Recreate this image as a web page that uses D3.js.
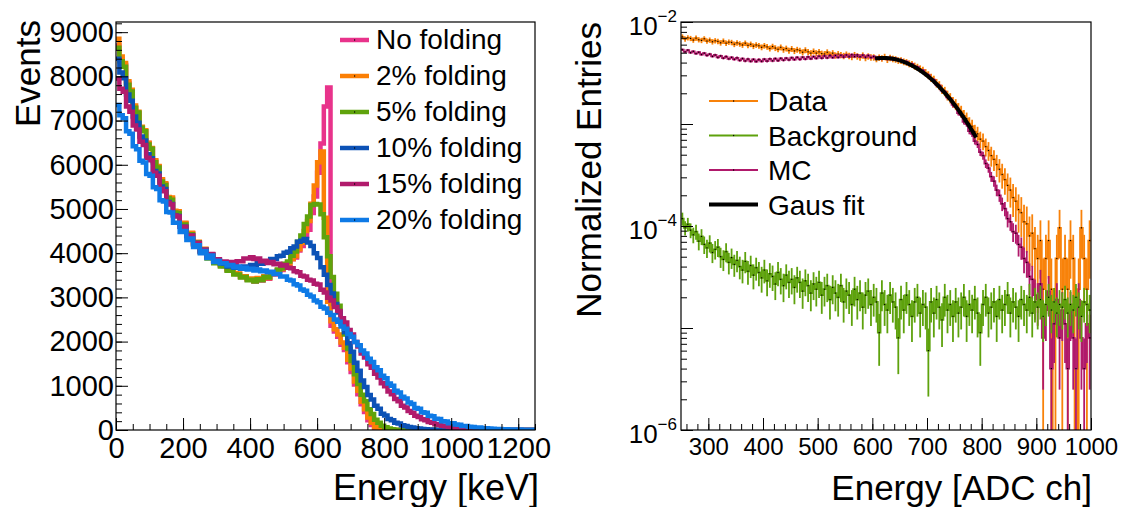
<!DOCTYPE html>
<html>
<head>
<meta charset="utf-8">
<script src="https://cdn.jsdelivr.net/npm/d3@7"></script>
<style>
  html, body { margin: 0; padding: 0; background: #fff; }
  svg { display: block; font-family: "Liberation Sans", Arial, sans-serif; }
</style>
</head>
<body>
<svg id="chart" width="1123" height="507"></svg>
<script>
// ---- left panel: simulated spectra, 10 keV bins starting at 0 keV ----
const keVBinWidth = 10;
const foldingLabels = ['No folding', '2% folding', '5% folding', '10% folding', '15% folding', '20% folding'];
const noFolding = [
  8700, 8380, 8260, 7850, 7660, 7290, 7160, 6830, 6770, 6490,
  6360, 6090, 5960, 5660, 5560, 5250, 5230, 4940, 4930, 4670,
  4680, 4450, 4450, 4230, 4250, 4050, 4090, 3910, 3960, 3800,
  3810, 3720, 3710, 3620, 3610, 3540, 3530, 3460, 3470, 3400,
  3410, 3360, 3430, 3380, 3470, 3420, 3530, 3520, 3610, 3620,
  3710, 3740, 3860, 3900, 4060, 4160, 4390, 4530, 4910, 5280,
  5820, 6480, 7320, 7750, 2360, 2230, 2110, 1930, 1810, 1530,
  1310, 1030, 810, 580, 410, 220, 115, 40, 10, 0,
  0, 0, 0, 0, 0, 0, 0, 0, 0, 0,
  0, 0, 0, 0, 0, 0, 0, 0, 0, 0,
  0, 0, 0, 0, 0, 0, 0, 0, 0, 0,
  0, 0, 0, 0, 0, 0, 0, 0, 0, 0,
  0, 0, 0, 0, 0];
const folding2 = [
  8850, 8450, 8300, 7890, 7700, 7340, 7200, 6860, 6780, 6500,
  6380, 6100, 5970, 5670, 5580, 5270, 5260, 4960, 4950, 4690,
  4690, 4460, 4460, 4250, 4260, 4070, 4100, 3930, 3970, 3810,
  3820, 3740, 3720, 3640, 3620, 3550, 3540, 3480, 3480, 3420,
  3430, 3390, 3440, 3400, 3480, 3440, 3540, 3540, 3620, 3640,
  3720, 3760, 3870, 3930, 4090, 4230, 4500, 4730, 5120, 5530,
  6060, 6300, 4800, 2900, 2460, 2280, 2160, 1980, 1860, 1590,
  1390, 1100, 890, 640, 470, 280, 165, 70, 25, 5,
  0, 0, 0, 0, 0, 0, 0, 0, 0, 0,
  0, 0, 0, 0, 0, 0, 0, 0, 0, 0,
  0, 0, 0, 0, 0, 0, 0, 0, 0, 0,
  0, 0, 0, 0, 0, 0, 0, 0, 0, 0,
  0, 0, 0, 0, 0];
const folding5 = [
  8650, 8340, 8220, 7810, 7660, 7290, 7180, 6840, 6760, 6460,
  6360, 6060, 5940, 5620, 5540, 5240, 5210, 4920, 4910, 4640,
  4650, 4410, 4430, 4200, 4240, 4020, 4070, 3880, 3940, 3770,
  3790, 3700, 3700, 3600, 3600, 3520, 3520, 3450, 3460, 3390,
  3400, 3360, 3410, 3390, 3460, 3450, 3530, 3540, 3630, 3660,
  3760, 3810, 3940, 4040, 4260, 4400, 4660, 4830, 5090, 5110,
  5100, 4880, 4360, 3930, 3460, 3080, 2810, 2460, 2160, 1830,
  1560, 1260, 1040, 800, 650, 470, 360, 230, 165, 95,
  62, 33, 19, 7, 3, 0, 0, 0, 0, 0,
  0, 0, 0, 0, 0, 0, 0, 0, 0, 0,
  0, 0, 0, 0, 0, 0, 0, 0, 0, 0,
  0, 0, 0, 0, 0, 0, 0, 0, 0, 0,
  0, 0, 0, 0, 0];
const folding10 = [
  8400, 8090, 7960, 7590, 7450, 7090, 6950, 6640, 6550, 6240,
  6150, 5860, 5800, 5510, 5450, 5160, 5110, 4860, 4840, 4600,
  4600, 4390, 4400, 4200, 4230, 4040, 4080, 3910, 3970, 3810,
  3830, 3770, 3760, 3700, 3710, 3670, 3690, 3670, 3700, 3680,
  3730, 3720, 3770, 3760, 3810, 3810, 3870, 3870, 3930, 3940,
  4010, 4030, 4110, 4150, 4260, 4280, 4320, 4240, 4160, 4000,
  3890, 3680, 3510, 3280, 3090, 2850, 2660, 2410, 2210, 1960,
  1770, 1520, 1340, 1120, 970, 790, 690, 550, 480, 370,
  330, 250, 220, 165, 145, 105, 92, 66, 57, 40,
  33, 23, 19, 12, 10, 6, 5, 3, 2, 1,
  0, 0, 0, 0, 0, 0, 0, 0, 0, 0,
  0, 0, 0, 0, 0, 0, 0, 0, 0, 0,
  0, 0, 0, 0, 0];
const folding15 = [
  7950, 7720, 7650, 7320, 7200, 6890, 6800, 6520, 6450, 6160,
  6100, 5820, 5750, 5460, 5400, 5140, 5100, 4850, 4830, 4600,
  4600, 4390, 4400, 4200, 4230, 4040, 4080, 3920, 3980, 3820,
  3860, 3800, 3810, 3770, 3800, 3770, 3820, 3820, 3880, 3880,
  3910, 3870, 3880, 3820, 3830, 3780, 3800, 3750, 3760, 3720,
  3730, 3670, 3660, 3590, 3570, 3490, 3470, 3400, 3380, 3310,
  3290, 3170, 3110, 2990, 2930, 2780, 2690, 2530, 2430, 2260,
  2160, 1990, 1890, 1730, 1640, 1490, 1410, 1270, 1190, 1060,
  990, 870, 810, 700, 650, 550, 510, 430, 390, 325,
  295, 245, 220, 180, 162, 132, 117, 95, 84, 68,
  59, 47, 41, 32, 28, 21, 19, 14, 12, 9,
  8, 6, 5, 4, 3, 2, 2, 1, 1, 0,
  0, 0, 0, 0, 0];
const folding20 = [
  7350, 7120, 7050, 6760, 6700, 6420, 6350, 6090, 6050, 5790,
  5750, 5490, 5450, 5200, 5170, 4930, 4920, 4690, 4690, 4480,
  4500, 4300, 4330, 4140, 4180, 4000, 4050, 3890, 3950, 3800,
  3830, 3770, 3770, 3720, 3730, 3680, 3700, 3650, 3670, 3630,
  3650, 3610, 3630, 3590, 3610, 3570, 3580, 3530, 3530, 3470,
  3470, 3400, 3380, 3300, 3270, 3180, 3150, 3060, 3020, 2930,
  2890, 2790, 2750, 2650, 2600, 2500, 2450, 2340, 2290, 2170,
  2110, 1990, 1920, 1800, 1730, 1610, 1540, 1420, 1350, 1230,
  1170, 1050, 1000, 890, 850, 750, 710, 620, 590, 500,
  480, 400, 390, 320, 310, 255, 248, 200, 195, 155,
  152, 122, 118, 92, 90, 72, 70, 55, 54, 42,
  41, 33, 31, 24, 24, 18, 18, 13, 13, 10,
  10, 7, 7, 5, 5];
const foldingSeries = [noFolding, folding2, folding5, folding10, folding15, folding20];
const foldingColors = ['#e8338b', '#fb7f05', '#5fa30c', '#0c52b6', '#b11b6c', '#0e7ae6'];
const leftYTicks = [0, 1000, 2000, 3000, 4000, 5000, 6000, 7000, 8000, 9000];
const leftXTicks = [0, 200, 400, 600, 800, 1000, 1200];

// ---- right panel: normalized entries, 5 ADC ch bins from 250, values in units of 1e-6 ----
const adcStart = 250;
const adcBinWidth = 5;
const dataEntries = [
  7150, 6820, 7000, 6900, 6650, 6950, 6700, 6600, 6850, 6500,
  6650, 6400, 6550, 6450, 6250, 6500, 6200, 6350, 6300, 6050,
  6250, 6100, 5950, 6200, 5900, 6050, 5800, 5950, 5850, 5650,
  5850, 5700, 5500, 5750, 5550, 5400, 5650, 5350, 5500, 5250,
  5450, 5200, 5350, 5250, 5050, 5300, 5100, 4950, 5150, 4950,
  5100, 4900, 4850, 5050, 4800, 4950, 4700, 4850, 4750, 4650,
  4800, 4650, 4550, 4750, 4600, 4500, 4700, 4450, 4600, 4500,
  4500, 4350, 4480, 4400, 4550, 4280, 4450, 4350, 4300, 4200,
  4200, 4080, 4020, 3900, 3840, 3700, 3600, 3470, 3360, 3180,
  3020, 2840, 2720, 2520, 2390, 2200, 2090, 1910, 1800, 1640,
  1560, 1420, 1330, 1200, 1130, 1010, 950, 840, 800, 710,
  680, 600, 550, 490, 450, 400, 360, 320, 285, 250,
  225, 190, 175, 145, 135, 110, 105, 80, 85, 60,
  48, 72, 24, 48, 72, 24, 0, 48, 96, 24,
  48, 24, 72, 48, 0, 24, 96, 48, 24, 72];
const backgroundEntries = [
  118, 96, 104, 91, 82, 88, 71, 79, 66, 61,
  68, 55, 59, 62, 50, 47, 56, 44, 49, 42,
  46, 40, 37, 45, 36, 41, 33, 39, 35, 31,
  37, 29, 34, 32, 27, 35, 30, 26, 33, 28,
  30, 25, 31, 28, 23, 29, 26, 22, 27, 24,
  28, 21, 24, 26, 19, 25, 22, 20, 26, 18,
  23, 21, 17, 24, 19, 22, 16, 21, 23, 17,
  20, 18, 9, 22, 17, 15, 21, 18, 16, 8,
  19, 15, 21, 17, 13, 18, 20, 14, 17, 16,
  6, 18, 14, 19, 16, 12, 20, 15, 17, 13,
  18, 14, 16, 20, 13, 17, 15, 19, 14, 9,
  17, 20, 14, 16, 18, 13, 19, 15, 17, 21,
  14, 18, 16, 13, 19, 17, 15, 20, 14, 18,
  16, 19, 13, 17, 20, 15, 18, 14, 17, 16,
  19, 14, 17, 15, 20, 16, 13, 18, 17, 15];
const mcEntries = [
  5350, 5100, 5300, 5000, 5150, 4900, 5050, 4800, 4950, 4700,
  4850, 4600, 4750, 4500, 4650, 4420, 4580, 4350, 4500, 4300,
  4450, 4200, 4380, 4150, 4330, 4120, 4300, 4100, 4280, 4120,
  4320, 4140, 4350, 4160, 4380, 4180, 4400, 4220, 4420, 4250,
  4460, 4280, 4500, 4300, 4520, 4330, 4550, 4360, 4580, 4400,
  4620, 4420, 4650, 4450, 4680, 4480, 4700, 4500, 4720, 4530,
  4750, 4560, 4780, 4580, 4760, 4560, 4740, 4520, 4700, 4480,
  4600, 4380, 4520, 4350, 4500, 4320, 4460, 4280, 4380, 4200,
  4250, 4050, 4080, 3850, 3880, 3640, 3620, 3380, 3350, 3080,
  3020, 2760, 2700, 2430, 2380, 2130, 2060, 1830, 1760, 1540,
  1480, 1280, 1230, 1050, 1000, 850, 800, 680, 630, 530,
  490, 410, 370, 305, 275, 225, 200, 165, 148, 118,
  110, 88, 85, 66, 62, 48, 44, 32, 30, 21,
  19, 27, 8, 15, 23, 4, 11, 19, 8, 15,
  11, 4, 15, 8, 4, 19, 8, 4, 11, 8];
// one-entry level of each histogram (sets the error bar size), units of 1e-6
const dataUnit = 24;
const backgroundUnit = 2.5;
const mcUnit = 3.8;
// Gaussian fit curve
const fitAdc = [605, 615, 625, 635, 645, 655, 665, 675, 685, 695, 705, 715, 725, 735, 745, 755, 765, 775, 785, 790];
const fitEntries = [4390, 4440, 4440, 4390, 4280, 4120, 3920, 3680, 3420, 3130, 2840, 2540, 2240, 1950, 1680, 1430, 1200, 998, 818, 737];
const rightLabels = ['Data', 'Background', 'MC', 'Gaus fit'];
const rightXTicks = [300, 400, 500, 600, 700, 800, 900, 1000];
const rightYDecades = [-6, -5, -4, -3, -2];
const rightYLabelled = [-6, -4, -2];

const svg = d3.select('#chart');
const FONT = '"Liberation Sans", Arial, sans-serif';
const intFormat = d3.format('d');

const left = { x0: 116, x1: 535, y0: 22, y1: 430 };
const right = { x0: 681, x1: 1091, y0: 22, y1: 430 };

const xL = d3.scaleLinear().domain([0, 1250]).range([left.x0, left.x1]);
const yL = d3.scaleLinear().domain([0, 9230]).range([left.y1, left.y0]);
const xR = d3.scaleLinear().domain([250, 1000]).range([right.x0, right.x1]);
const yR = d3.scaleLog().domain([1e-6, 1e-2]).range([right.y1, right.y0]);

const defs = svg.append('defs');
defs.append('clipPath').attr('id', 'clipL').append('rect')
  .attr('x', left.x0).attr('y', left.y0).attr('width', left.x1 - left.x0).attr('height', left.y1 - left.y0);
defs.append('clipPath').attr('id', 'clipR').append('rect')
  .attr('x', right.x0).attr('y', right.y0).attr('width', right.x1 - right.x0).attr('height', right.y1 - right.y0);

function stepPoints(values, start, width) {
  const pts = values.map((v, i) => [start + i * width, v]);
  pts.push([start + values.length * width, values[values.length - 1]]);
  return pts;
}

function styleAxis(g, size) {
  g.select('.domain').remove();
  g.selectAll('line').attr('stroke', '#000').attr('stroke-width', 1);
  g.selectAll('text').attr('fill', '#000').attr('font-size', size).attr('font-family', FONT);
}

drawLeft();
drawRight();

function drawLeft() {
  const line = d3.line().curve(d3.curveStepAfter)
    .x(d => xL(d[0])).y(d => yL(d[1]));

  const plot = svg.append('g').attr('clip-path', 'url(#clipL)');
  foldingSeries.forEach((values, i) => {
    plot.append('path')
      .datum(stepPoints(values, 0, keVBinWidth))
      .attr('d', line)
      .attr('fill', 'none')
      .attr('stroke', foldingColors[i])
      .attr('stroke-width', 4.5)
      .attr('stroke-linejoin', 'miter');
  });

  // axes (ticks point inward, ROOT style)
  svg.append('g').attr('transform', `translate(${left.x0},0)`)
    .call(d3.axisLeft(yL).tickValues(d3.range(0, 9231, 200)).tickSize(-6).tickFormat(''))
    .call(g => styleAxis(g, 29));
  svg.append('g').attr('transform', `translate(${left.x0},0)`)
    .call(d3.axisLeft(yL).tickValues(leftYTicks).tickSize(-12).tickPadding(2).tickFormat(intFormat))
    .call(g => styleAxis(g, 29));
  svg.append('g').attr('transform', `translate(0,${left.y1})`)
    .call(d3.axisBottom(xL).tickValues(d3.range(0, 1251, 50)).tickSize(-6).tickFormat(''))
    .call(g => styleAxis(g, 29));
  svg.append('g').attr('transform', `translate(0,${left.y1})`)
    .call(d3.axisBottom(xL).tickValues(leftXTicks).tickSize(-12).tickPadding(7).tickFormat(intFormat))
    .call(g => styleAxis(g, 29));

  svg.append('rect')
    .attr('x', left.x0).attr('y', left.y0)
    .attr('width', left.x1 - left.x0).attr('height', left.y1 - left.y0)
    .attr('fill', 'none').attr('stroke', '#000').attr('stroke-width', 1.2);

  svg.append('text')
    .attr('transform', 'translate(39.5,20) rotate(-90)')
    .attr('text-anchor', 'end').attr('font-size', 35)
    .text('Events');
  svg.append('text')
    .attr('x', 539).attr('y', 500)
    .attr('text-anchor', 'end').attr('font-size', 36)
    .text('Energy [keV]');

  // legend
  foldingLabels.forEach((label, i) => {
    const ly = 40 + i * 36;
    svg.append('line')
      .attr('x1', 340).attr('x2', 369).attr('y1', ly).attr('y2', ly)
      .attr('stroke', foldingColors[i]).attr('stroke-width', 4.5);
    svg.append('rect').attr('x', 354).attr('y', ly - 0.6).attr('width', 1.2).attr('height', 1.2).attr('fill', '#000');
    svg.append('text')
      .attr('x', 376).attr('y', ly + 9)
      .attr('font-size', 28)
      .text(label);
  });
}

function drawHist(plot, values, unit, color) {
  const floor = 5e-7;
  const line = d3.line().curve(d3.curveStepAfter)
    .x(d => xR(d[0])).y(d => yR(Math.max(d[1] * 1e-6, floor)));
  plot.append('path')
    .datum(stepPoints(values, adcStart, adcBinWidth))
    .attr('d', line)
    .attr('fill', 'none')
    .attr('stroke', color)
    .attr('stroke-width', 1.8);

  const bins = values.map((v, i) => ({ x: adcStart + (i + 0.5) * adcBinWidth, v }))
    .filter(d => d.v > 0);
  plot.append('g').selectAll('line')
    .data(bins)
    .join('line')
    .attr('x1', d => xR(d.x)).attr('x2', d => xR(d.x))
    .attr('y1', d => yR((d.v + Math.sqrt(d.v * unit)) * 1e-6))
    .attr('y2', d => {
      const lo = d.v - Math.sqrt(d.v * unit);
      return lo > 0.05 ? yR(lo * 1e-6) : right.y1 + 5;
    })
    .attr('stroke', color)
    .attr('stroke-width', 1.8);
  plot.append('g').selectAll('rect')
    .data(bins)
    .join('rect')
    .attr('x', d => xR(d.x) - 0.6).attr('y', d => yR(d.v * 1e-6) - 0.6)
    .attr('width', 1.2).attr('height', 1.2)
    .attr('fill', '#000');
}

function drawRight() {
  const dataColor = '#f8820a';
  const bgColor = '#5ea20d';
  const mcColor = '#b0196b';
  const plot = svg.append('g').attr('clip-path', 'url(#clipR)');
  drawHist(plot, dataEntries, dataUnit, dataColor);
  drawHist(plot, mcEntries, mcUnit, mcColor);
  drawHist(plot, backgroundEntries, backgroundUnit, bgColor);

  const fitLine = d3.line().curve(d3.curveCatmullRom)
    .x((d, i) => xR(fitAdc[i])).y(d => yR(d * 1e-6));
  plot.append('path')
    .datum(fitEntries)
    .attr('d', fitLine)
    .attr('fill', 'none')
    .attr('stroke', '#000')
    .attr('stroke-width', 4);

  // minor log ticks
  const minor = [];
  rightYDecades.slice(0, -1).forEach(e => {
    for (let k = 2; k <= 9; k++) minor.push(k * Math.pow(10, e));
  });
  svg.append('g').attr('transform', `translate(${right.x0},0)`)
    .call(d3.axisLeft(yR).tickValues(minor).tickSize(-6).tickFormat(''))
    .call(g => styleAxis(g, 26));
  svg.append('g').attr('transform', `translate(${right.x0},0)`)
    .call(d3.axisLeft(yR).tickValues(rightYDecades.map(e => Math.pow(10, e))).tickSize(-12).tickFormat(''))
    .call(g => styleAxis(g, 26));
  svg.append('g').attr('transform', `translate(0,${right.y1})`)
    .call(d3.axisBottom(xR).tickValues(d3.range(260, 1001, 20)).tickSize(-6).tickFormat(''))
    .call(g => styleAxis(g, 24));
  svg.append('g').attr('transform', `translate(0,${right.y1})`)
    .call(d3.axisBottom(xR).tickValues(rightXTicks).tickSize(-12).tickPadding(8).tickFormat(intFormat))
    .call(g => styleAxis(g, 24));

  rightYLabelled.forEach(e => {
    const ty = yR(Math.pow(10, e));
    const t = svg.append('text')
      .attr('x', right.x0 - 4).attr('y', ty + 13)
      .attr('text-anchor', 'end');
    t.append('tspan').attr('font-size', 26).text('10');
    t.append('tspan').attr('font-size', 17).attr('dy', -13).text('\u2212' + Math.abs(e));
  });

  svg.append('rect')
    .attr('x', right.x0).attr('y', right.y0)
    .attr('width', right.x1 - right.x0).attr('height', right.y1 - right.y0)
    .attr('fill', 'none').attr('stroke', '#000').attr('stroke-width', 1.2);

  svg.append('text')
    .attr('transform', 'translate(601,22) rotate(-90)')
    .attr('text-anchor', 'end').attr('font-size', 35)
    .text('Normalized Entries');
  svg.append('text')
    .attr('x', 1092).attr('y', 500)
    .attr('text-anchor', 'end').attr('font-size', 35)
    .text('Energy [ADC ch]');

  const legendColors = [dataColor, bgColor, mcColor, '#000'];
  rightLabels.forEach((label, i) => {
    const ly = 101 + i * 34.5;
    const isFit = i === 3;
    svg.append('line')
      .attr('x1', 709).attr('x2', 758).attr('y1', ly).attr('y2', ly)
      .attr('stroke', legendColors[i]).attr('stroke-width', isFit ? 4 : 2);
    if (!isFit) {
      svg.append('rect').attr('x', 733).attr('y', ly - 0.6).attr('width', 1.2).attr('height', 1.2).attr('fill', '#000');
    }
    svg.append('text')
      .attr('x', 768).attr('y', ly + 10)
      .attr('font-size', 28)
      .text(label);
  });
}
</script>
</body>
</html>
